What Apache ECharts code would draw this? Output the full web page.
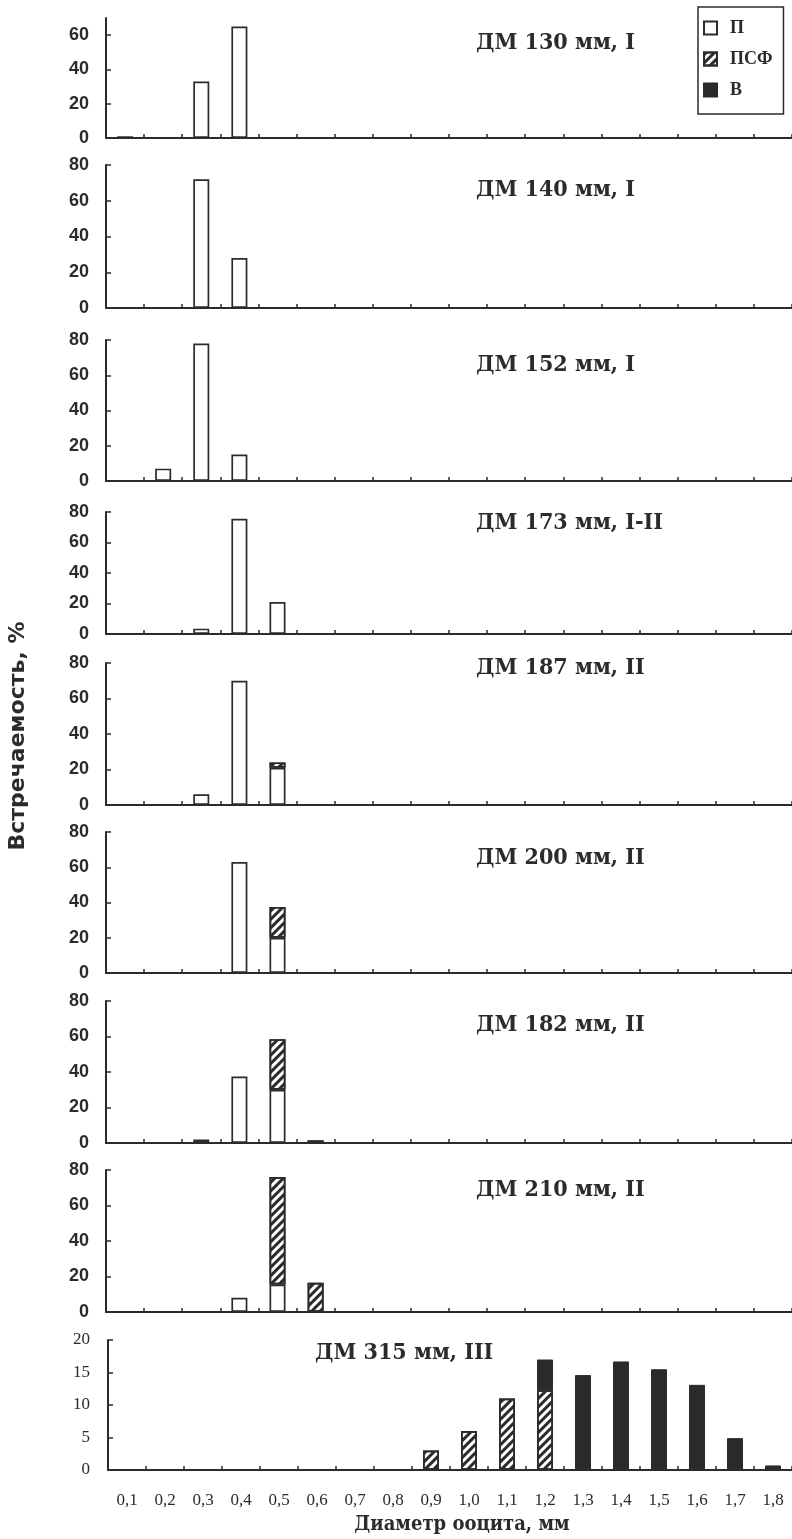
<!DOCTYPE html>
<html>
<head>
<meta charset="utf-8">
<script src="https://cdn.jsdelivr.net/npm/echarts@6/dist/echarts.min.js"></script>
<style>
  html, body { margin: 0; padding: 0; background: #ffffff; }
  #chart { width: 792px; height: 1539px; }
</style>
</head>
<body>
<div id="chart"></div>
<script>
// ---- data ----
const categories = ['0,1','0,2','0,3','0,4','0,5','0,6','0,7','0,8','0,9','1,0','1,1','1,2','1,3','1,4','1,5','1,6','1,7','1,8'];
const panelTitles = ['ДМ 130 мм, I','ДМ 140 мм, I','ДМ 152 мм, I','ДМ 173 мм, I-II','ДМ 187 мм, II','ДМ 200 мм, II','ДМ 182 мм, II','ДМ 210 мм, II','ДМ 315 мм, III'];
const yMax = [70, 80, 80, 80, 80, 80, 80, 80, 20];
const yInterval = [20, 20, 20, 20, 20, 20, 20, 20, 5];
const _ = null;
// П, ПСФ, В per panel; 18 values each (0,1 ... 1,8)
const dm130_P   = [1,_,33,65,_,_,_,_,_,_,_,_,_,_,_,_,_,_];
const dm140_P   = [_,_,72,28,_,_,_,_,_,_,_,_,_,_,_,_,_,_];
const dm152_P   = [_,7,78,15,_,_,_,_,_,_,_,_,_,_,_,_,_,_];
const dm173_P   = [_,_,3.5,75.5,21,_,_,_,_,_,_,_,_,_,_,_,_,_];
const dm187_P   = [_,_,6,70,21,_,_,_,_,_,_,_,_,_,_,_,_,_];
const dm187_PSF = [_,_,_,_,3,_,_,_,_,_,_,_,_,_,_,_,_,_];
const dm200_P   = [_,_,_,63,20,_,_,_,_,_,_,_,_,_,_,_,_,_];
const dm200_PSF = [_,_,_,_,17.5,_,_,_,_,_,_,_,_,_,_,_,_,_];
const dm182_P   = [_,_,2,37.5,30,_,_,_,_,_,_,_,_,_,_,_,_,_];
const dm182_PSF = [_,_,_,_,28.5,1.5,_,_,_,_,_,_,_,_,_,_,_,_];
const dm210_P   = [_,_,_,8,15.5,_,_,_,_,_,_,_,_,_,_,_,_,_];
const dm210_PSF = [_,_,_,_,60.5,16.5,_,_,_,_,_,_,_,_,_,_,_,_];
const dm315_PSF = [_,_,_,_,_,_,_,_,3,6,11,12.3,_,_,_,_,_,_];
const dm315_V   = [_,_,_,_,_,_,_,_,_,_,_,4.7,14.6,16.7,15.5,13.1,4.9,0.7];
const empty     = [_,_,_,_,_,_,_,_,_,_,_,_,_,_,_,_,_,_];

const panelP   = [dm130_P, dm140_P, dm152_P, dm173_P, dm187_P, dm200_P, dm182_P, dm210_P, empty];
const panelPSF = [empty, empty, empty, empty, dm187_PSF, dm200_PSF, dm182_PSF, dm210_PSF, dm315_PSF];
const panelV   = [empty, empty, empty, empty, empty, empty, empty, empty, dm315_V];

// ---- layout ----
const gridTop    = [18, 165, 340, 512, 663, 832, 1001, 1170, 1340];
const gridZero   = [138, 308, 481, 634, 805, 973, 1143, 1312, 1470];
const titleY     = [43, 190, 365, 523, 668, 858, 1025, 1190, 1353];
const titleX     = [476, 476, 476, 476, 476, 476, 476, 476, 315];

const INK = '#2b2b2b';

const grids = [], xAxes = [], yAxes = [], series = [], titles = [];
for (let i = 0; i < 9; i++) {
  const last = i === 8;
  const left = last ? 108 : 106;
  grids.push({ left: left, top: gridTop[i], height: gridZero[i] - gridTop[i], width: 792 - left });
  xAxes.push({
    gridIndex: i, type: 'category', data: categories, boundaryGap: true,
    axisLine: { show: true, lineStyle: { color: INK, width: 2 } },
    axisTick: { show: true, inside: true, length: 4, interval: 0, lineStyle: { color: INK, width: 1.5 } },
    axisLabel: last ? { show: true, interval: 0, margin: 22, color: INK, fontFamily: 'Liberation Serif', fontSize: 17 } : { show: false },
    splitLine: { show: false }
  });
  yAxes.push({
    gridIndex: i, type: 'value', min: 0, max: yMax[i], interval: yInterval[i],
    axisLine: { show: true, lineStyle: { color: INK, width: 2 } },
    axisTick: { show: true, inside: true, length: 5, lineStyle: { color: INK, width: 1.5 } },
    splitLine: { show: false },
    axisLabel: last
      ? { color: INK, fontFamily: 'Liberation Serif', fontSize: 17, margin: 18 }
      : { color: INK, fontFamily: 'Liberation Sans', fontWeight: 'bold', fontSize: 18, margin: 17, showMaxLabel: i === 0 ? false : true }
  });
  const common = { type: 'bar', xAxisIndex: i, yAxisIndex: i, stack: 's' + i, barWidth: 16 };
  series.push(Object.assign({}, common, {
    name: 'П', data: panelP[i],
    itemStyle: { color: '#ffffff', borderColor: INK, borderWidth: 1.7 }
  }));
  series.push(Object.assign({}, common, {
    name: 'ПСФ', data: panelPSF[i],
    itemStyle: {
      color: '#ffffff', borderColor: INK, borderWidth: 1.7,
      decal: { symbol: 'rect', dashArrayX: [1, 0], dashArrayY: [3, 3], rotation: -Math.PI / 4, color: INK, symbolSize: 1 }
    }
  }));
  series.push(Object.assign({}, common, {
    name: 'В', data: panelV[i],
    itemStyle: { color: INK, borderColor: INK, borderWidth: 1 }
  }));
  titles.push({
    text: panelTitles[i], left: titleX[i], top: titleY[i] - 14, padding: 0,
    textStyle: { fontFamily: 'DejaVu Serif Condensed', fontWeight: 'bold', fontSize: 23, lineHeight: 28, color: INK }
  });
}

const chart = echarts.init(document.getElementById('chart'), null, { renderer: 'canvas' });
chart.setOption({
  backgroundColor: '#ffffff',
  animation: false,
  title: titles,
  legend: {
    data: ['П', 'ПСФ', 'В'], orient: 'vertical', left: 698, top: 7,
    icon: 'rect',
    padding: [12, 11, 15, 5], itemWidth: 13, itemHeight: 13, itemGap: 13,
    borderColor: INK, borderWidth: 1.5, selectedMode: false,
    textStyle: { fontFamily: 'Liberation Serif', fontWeight: 'bold', fontSize: 18, color: INK, padding: [0, 0, 0, 8] }
  },
  grid: grids,
  xAxis: xAxes,
  yAxis: yAxes,
  series: series,
  graphic: [
    { type: 'text', x: 18, y: 736, rotation: Math.PI / 2,
      style: { text: 'Встречаемость, %', font: 'bold 22px "DejaVu Sans"', fill: INK, align: 'center', verticalAlign: 'middle', textAlign: 'center', textVerticalAlign: 'middle' } },
    { type: 'text', x: 462, y: 1525,
      style: { text: 'Диаметр ооцита, мм', font: 'bold 20px "DejaVu Serif Condensed"', fill: INK, align: 'center', verticalAlign: 'middle', textAlign: 'center', textVerticalAlign: 'middle' } }
  ]
});
</script>
</body>
</html>
